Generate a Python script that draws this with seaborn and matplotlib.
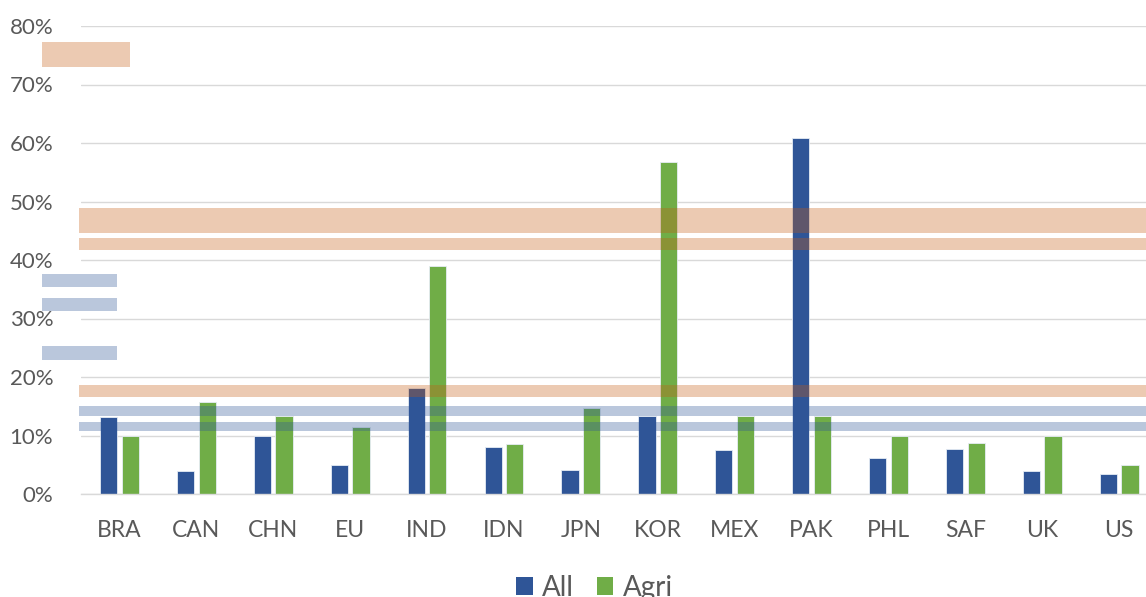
import matplotlib
matplotlib.use("Agg")
import matplotlib.pyplot as plt
import matplotlib.ticker as mticker
from matplotlib.patches import Patch
import seaborn as sns
import pandas as pd

# ---- data ----
countries = ["BRA", "CAN", "CHN", "EU", "IND", "IDN", "JPN", "KOR", "MEX", "PAK", "PHL", "SAF", "UK", "US"]
all_vals = [0.131, 0.039, 0.099, 0.050, 0.182, 0.080, 0.041, 0.134, 0.075, 0.608, 0.061, 0.077, 0.039, 0.034]
agri_vals = [0.099, 0.158, 0.134, 0.115, 0.390, 0.085, 0.147, 0.567, 0.134, 0.134, 0.099, 0.088, 0.099, 0.049]
series_names = ["All", "Agri"]
y_ticks = [0.0, 0.1, 0.2, 0.3, 0.4, 0.5, 0.6, 0.7, 0.8]

# overlay bands (low, high, kind)
band_lo = [0.730, 0.4455, 0.4165, 0.3532, 0.3122, 0.229, 0.1663, 0.1338, 0.1072]
band_hi = [0.773, 0.4888, 0.4375, 0.3755, 0.3345, 0.2529, 0.1858, 0.1504, 0.1231]
band_kind = ["o_left", "o_full", "o_full", "b_left", "b_left", "b_left", "o_full", "b_full", "b_full"]

df = pd.DataFrame({
    "country": countries * 2,
    "series": [series_names[0]] * len(countries) + [series_names[1]] * len(countries),
    "value": all_vals + agri_vals,
})

BLUE = "#2F5597"
GREEN = "#70AD47"
ORANGE_BAND = "#C55A11"
BLUE_BAND = "#2F5597"
TXT = "#595959"
GRID = "#D9D9D9"

sns.set_theme(style="white")
plt.rcParams["font.family"] = ["Lato", "DejaVu Sans"]

W, H = 1146, 597
fig = plt.figure(figsize=(W / 100, H / 100), dpi=100)
ax_left, ax_right, ax_top, ax_bottom = 81, 1146, 26, 494
ax = fig.add_axes([ax_left / W, 1 - ax_bottom / H, (ax_right - ax_left) / W, (ax_bottom - ax_top) / H])

sns.barplot(data=df, x="country", y="value", hue="series", palette=[BLUE, GREEN],
            saturation=1, width=0.56, gap=0.2, dodge=True, ax=ax,
            edgecolor="#E6ECF5", linewidth=0.6, zorder=2, legend=False)

cat_px = 76.9
ax.set_xlim(-0.5, -0.5 + (ax_right - ax_left) / cat_px)
ax.set_ylim(0, 0.8)
ax.set_yticks(y_ticks)
ax.yaxis.set_major_formatter(mticker.PercentFormatter(1.0, decimals=0))
ax.grid(axis="y", color=GRID, linewidth=1.0, zorder=0)
ax.set_axisbelow(True)
for s in ["top", "right", "left"]:
    ax.spines[s].set_visible(False)
ax.spines["bottom"].set_color(GRID)
ax.spines["bottom"].set_linewidth(1.0)
ax.tick_params(axis="y", length=0, pad=20, labelsize=16, labelcolor=TXT)
ax.tick_params(axis="x", length=0, pad=19, labelsize=16.5, labelcolor=TXT)
ax.set_xlabel("")
ax.set_ylabel("")

axw = ax_right - ax_left
for lo, hi, kind in zip(band_lo, band_hi, band_kind):
    col = ORANGE_BAND if kind.startswith("o") else BLUE_BAND
    alpha = 0.32 if kind.startswith("o") else 0.33
    if kind.endswith("left"):
        xmin = (42.3 - ax_left) / axw
        xmax = ((129.7 if kind.startswith("o") else 117.3) - ax_left) / axw
    else:
        xmin = (79 - ax_left) / axw
        xmax = 1.0
    ax.axhspan(lo, hi, xmin=xmin, xmax=xmax, color=col, alpha=alpha, lw=0, zorder=5, clip_on=False)

handles = [Patch(facecolor=BLUE, edgecolor="none"), Patch(facecolor=GREEN, edgecolor="none")]
fig.legend(handles, series_names, loc="center", bbox_to_anchor=(594.5 / W, 1 - 588 / H),
           ncol=2, frameon=False, fontsize=20, handlelength=0.61, handleheight=0.6,
           handletextpad=0.35, columnspacing=0.8, labelcolor=TXT, borderpad=0)

fig.savefig("out.png", dpi=100)
